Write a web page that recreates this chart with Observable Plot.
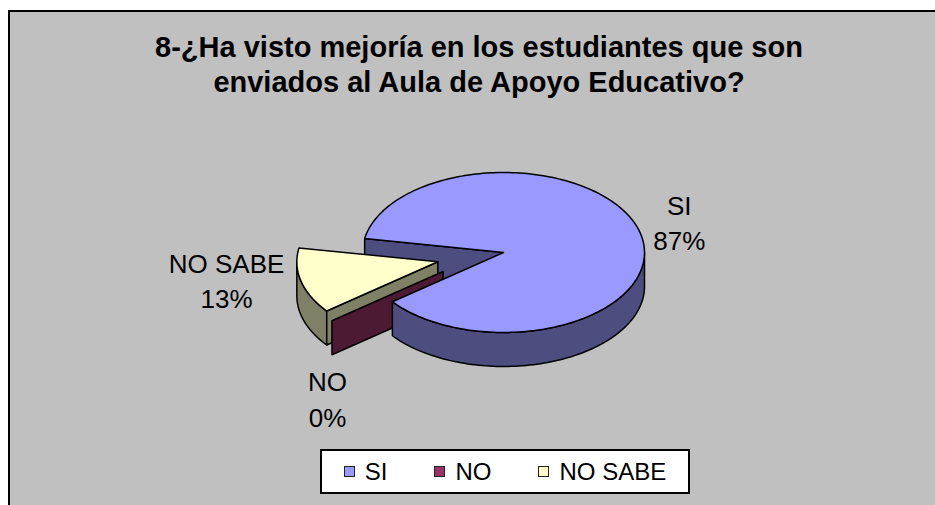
<!DOCTYPE html>
<html>
<head>
<meta charset="utf-8">
<script src="https://cdn.jsdelivr.net/npm/d3@7"></script>
<script src="https://cdn.jsdelivr.net/npm/@observablehq/plot@0.6"></script>
<style>
  html, body { margin: 0; padding: 0; background: #fff; width: 935px; height: 505px; overflow: hidden;
    font-family: "Liberation Sans", Arial, sans-serif; }
  #frame { position: absolute; left: 8px; top: 10px; width: 960px; height: 520px; background: #c0c0c0;
    border-top: 2px solid #000; border-left: 2px solid #000; }
  #title { position: absolute; left: 0; top: 30px; width: 958px; text-align: center; font-weight: bold;
    font-size: 29px; line-height: 35px; color: #000; }
  #chart { position: absolute; left: 0; top: 0; }
  #legend { position: absolute; left: 320px; top: 449px; width: 370px; height: 45px; box-sizing: border-box;
    border: 2px solid #000; background: #fff; display: flex; align-items: center; justify-content: center;
    gap: 47px; font-size: 24px; color: #000; }
  #legend .item { display: flex; align-items: center; white-space: nowrap; }
  #legend .sw { width: 11px; height: 11px; box-sizing: border-box; border: 1px solid #222; margin-right: 10px; }
</style>
</head>
<body>
<div id="frame"></div>
<div id="title">8-¿Ha visto mejoría en los estudiantes que son<br>enviados al Aula de Apoyo Educativo?</div>
<div id="chart"></div>
<div id="legend"></div>
<script>
// ---- data ----
const categories = ["SI", "NO", "NO SABE"];
const values = [13, 0, 2];
const topColors = ["#9999FF", "#993366", "#FFFFCC"];

// ---- style / layout ----
const W = 935, H = 505;
const cx = 503, cy = 252, rx = 141, ry = 80, depth = 34;
const firstSliceAngle = 280; // degrees, clockwise from 12 o'clock
const explode = { "SI": null, "NO": { r: 0.49, turn: 9 }, "NO SABE": { r: 0.48, turn: 0 } };
const labelNudge = { "SI": [39, -12], "NO": [-4.5, 77], "NO SABE": [-74.5, -2] };
const rad = d => d * Math.PI / 180;

const total = d3.sum(values);
const fmt = d3.format(".0%");
const table = categories.map((c, i) => ({ name: c, value: values[i], color: topColors[i] }));
const arcs = d3.pie().sort(null).value(d => d.value)
  .startAngle(rad(firstSliceAngle)).endAngle(rad(firstSliceAngle) + 2 * Math.PI)(table);

const pt = (o, a, dz = 0) => ({ x: o.x + rx * Math.sin(a), y: o.y - ry * Math.cos(a) + dz });
function arcPts(o, a0, a1, dz) {
  const n = Math.max(2, Math.ceil(Math.abs(a1 - a0) / (Math.PI / 120)));
  return d3.range(n + 1).map(i => pt(o, a0 + (a1 - a0) * i / n, dz));
}
const half = c => { const r = d3.rgb(c); return d3.rgb(r.r / 2, r.g / 2, r.b / 2).formatHex(); };

const slices = arcs.map(a => {
  const ex = explode[a.data.name];
  const mid = (a.startAngle + a.endAngle) / 2;
  let o = { x: cx, y: cy };
  if (ex) {
    const d = mid + rad(ex.turn);
    o = { x: cx + ex.r * rx * Math.sin(d), y: cy - ex.r * ry * Math.cos(d) };
  }
  return { ...a, o, mid, exploded: !!ex };
});

function tops(s) {
  if (s.endAngle - s.startAngle <= 0) return [];
  return [[s.o, ...arcPts(s.o, s.startAngle, s.endAngle, 0)]];
}
function walls(s) {
  const out = [];
  for (let k = -1; k <= 2; k++) {
    const lo = Math.max(s.startAngle, Math.PI / 2 + 2 * Math.PI * k);
    const hi = Math.min(s.endAngle, 3 * Math.PI / 2 + 2 * Math.PI * k);
    if (hi > lo) out.push([...arcPts(s.o, lo, hi, 0), ...arcPts(s.o, hi, lo, depth)]);
  }
  return out;
}
function radials(s) {
  const out = [];
  const face = a => [s.o, pt(s.o, a), pt(s.o, a, depth), { x: s.o.x, y: s.o.y + depth }];
  if (Math.sin(s.startAngle) < 0) out.push(face(s.startAngle));
  if (s.endAngle > s.startAngle && Math.sin(s.endAngle) > 0) out.push(face(s.endAngle));
  return out;
}

// painter's order
const layers = [];
const fixed = slices.filter(s => !s.exploded);
const moved = slices.filter(s => s.exploded).reverse();
fixed.forEach(s => radials(s).forEach(p => layers.push({ p, c: half(s.data.color) })));
moved.forEach(s => {
  walls(s).forEach(p => layers.push({ p, c: half(s.data.color) }));
  radials(s).forEach(p => layers.push({ p, c: half(s.data.color) }));
  tops(s).forEach(p => layers.push({ p, c: s.data.color }));
});
fixed.forEach(s => {
  walls(s).forEach(p => layers.push({ p, c: half(s.data.color) }));
  tops(s).forEach(p => layers.push({ p, c: s.data.color }));
});

const labels = slices.map(s => {
  const b = pt(s.o, s.mid);
  const n = labelNudge[s.data.name];
  return { x: b.x + n[0], y: b.y + n[1], text: `${s.data.name}\n${fmt(s.data.value / total)}` };
});

const marks = layers.map(l => Plot.line(l.p, {
  x: "x", y: "y", fill: l.c, stroke: "#000", strokeWidth: 1.5,
  curve: "linear-closed", strokeLinejoin: "round"
}));
marks.push(Plot.text(labels, {
  x: "x", y: "y", text: "text", fontSize: 26, lineHeight: 1.35, fill: "#000",
  textAnchor: "middle", lineAnchor: "middle", fontFamily: "Liberation Sans, Arial, sans-serif"
}));

const chart = Plot.plot({
  width: W, height: H, margin: 0,
  x: { domain: [0, W], range: [0, W], axis: null },
  y: { domain: [0, H], range: [0, H], axis: null },
  style: { background: "transparent", overflow: "visible" },
  marks
});
document.getElementById("chart").appendChild(chart);

// legend
const lg = document.getElementById("legend");
table.forEach(d => {
  const it = document.createElement("div");
  it.className = "item";
  const sw = document.createElement("span");
  sw.className = "sw"; sw.style.background = d.color;
  it.appendChild(sw);
  it.appendChild(document.createTextNode(d.name));
  lg.appendChild(it);
});
</script>
</body>
</html>
